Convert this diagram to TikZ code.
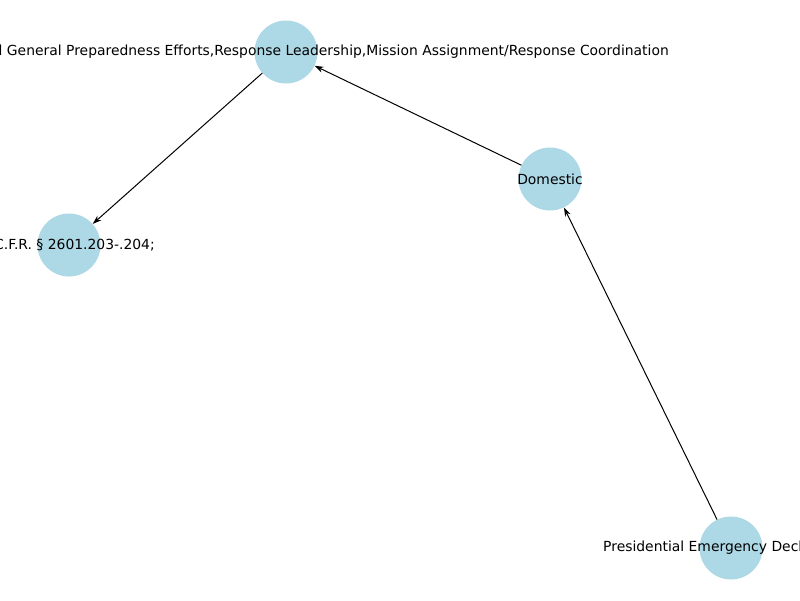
\documentclass[tikz,border=0pt]{standalone}
\usepackage{fontspec}
\setmainfont{DejaVu Sans}
\usetikzlibrary{arrows.meta}
\definecolor{nodeblue}{HTML}{ADD8E6}
\begin{document}
\begin{tikzpicture}[x=1pt,y=-1pt,
  vertex/.style={circle,fill=nodeblue,minimum size=63pt,inner sep=0pt},
  lbl/.style={font=\fontsize{13.9}{16}\selectfont,inner sep=0pt},
  edge/.style={draw=black,line width=1pt,-{Stealth[length=9pt,width=6pt]}}]
\useasboundingbox (0,0) rectangle (800,600);
\clip (0,0) rectangle (800,600);
\node[vertex] (A) at (286,52) {};
\node[vertex] (B) at (69,245) {};
\node[vertex] (C) at (550,179) {};
\node[vertex] (D) at (731,548) {};
\draw[edge] (D) -- (C);
\draw[edge] (C) -- (A);
\draw[edge] (A) -- (B);
\node[lbl,anchor=east] (tA) at (669,52) {d General Preparedness Efforts,Response Leadership,Mission Assignment/Response Coordination};
\node[lbl,anchor=east] (tB) at (155,245) {C.F.R. § 2601.203-.204;};
\node[lbl] (tC) at (550,179) {Domestic};
\node[lbl,anchor=west] (tD) at (603,548) {Presidential Emergency Decl};
\end{tikzpicture}
\end{document}
